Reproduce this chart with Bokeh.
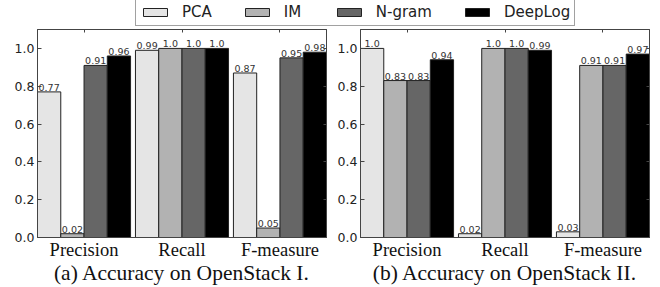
from bokeh.plotting import figure
from bokeh.models import (ColumnDataSource, Legend, LegendItem, FixedTicker, Range1d,
                          NumeralTickFormatter, LinearAxis)
from bokeh.layouts import column, row
from bokeh.core.properties import value
from bokeh.embed import file_html
from bokeh.resources import INLINE

categories = ["Precision", "Recall", "F-measure"]
methods = ["PCA", "IM", "N-gram", "DeepLog"]
colors = ["#e5e5e5", "#b2b2b2", "#666666", "#000000"]

os1_pca = [0.77, 0.99, 0.87]
os1_im = [0.02, 1.0, 0.05]
os1_ngram = [0.91, 1.0, 0.95]
os1_deeplog = [0.96, 1.0, 0.98]

os2_pca = [1.0, 0.02, 0.03]
os2_im = [0.83, 1.0, 0.91]
os2_ngram = [0.83, 1.0, 0.91]
os2_deeplog = [0.94, 0.99, 0.97]

y_ticks = [0.0, 0.2, 0.4, 0.6, 0.8, 1.0]

W = 0.2375
EDGE = "#222222"
FRAME = "#444444"


def style_axis_lines(ax):
    ax.axis_line_color = FRAME
    ax.major_tick_line_color = FRAME
    ax.major_tick_in = 4
    ax.major_tick_out = 0
    ax.minor_tick_line_color = None


def panel(series, caption, width, bl, br):
    n = len(categories)
    p = figure(width=width, height=260, output_backend="svg", toolbar_location=None,
               x_range=Range1d(-2 * W, (n - 1) + 2 * W), y_range=Range1d(0, 1.1),
               min_border_left=bl, min_border_right=br, min_border_top=2, min_border_bottom=0)
    for j, vals in enumerate(series):
        xs = [i + (j - 1.5) * W for i in range(n)]
        src = ColumnDataSource(dict(x=xs, top=vals, lab=[str(v) for v in vals]))
        p.vbar(x="x", top="top", width=W, source=src, fill_color=colors[j],
               line_color=EDGE, line_width=1)
        p.text(x="x", y="top", text="lab", source=src, text_align="center",
               text_baseline="bottom", y_offset=-1, text_font=value("DejaVu Sans"),
               text_font_size="9.5px", text_color="#333333")
    p.grid.visible = False
    p.outline_line_color = FRAME
    p.outline_line_width = 1
    p.background_fill_color = "white"
    p.border_fill_color = "white"

    xa = p.xaxis[0]
    xa.ticker = FixedTicker(ticks=list(range(n)))
    xa.major_label_overrides = {i: c for i, c in enumerate(categories)}
    xa.major_label_text_font = "Liberation Serif"
    xa.major_label_text_font_size = "18.5px"
    xa.major_label_text_color = "#111111"
    xa.major_label_standoff = 2
    style_axis_lines(xa)
    xa.axis_label = caption
    xa.axis_label_text_font = "Liberation Serif"
    xa.axis_label_text_font_size = "21.5px"
    xa.axis_label_text_font_style = "normal"
    xa.axis_label_text_color = "#111111"
    xa.axis_label_standoff = -2

    ya = p.yaxis[0]
    ya.ticker = FixedTicker(ticks=y_ticks)
    ya.formatter = NumeralTickFormatter(format="0.0")
    ya.major_label_text_font = "DejaVu Sans"
    ya.major_label_text_font_size = "12.5px"
    ya.major_label_text_color = "#222222"
    ya.major_label_standoff = 3
    style_axis_lines(ya)

    top_ax = LinearAxis(ticker=FixedTicker(ticks=list(range(n))),
                        major_label_text_color=None, major_label_standoff=0)
    style_axis_lines(top_ax)
    top_ax.major_tick_in = 3
    p.add_layout(top_ax, "above")
    right_ax = LinearAxis(ticker=FixedTicker(ticks=y_ticks),
                          major_label_text_color=None, major_label_standoff=0)
    style_axis_lines(right_ax)
    right_ax.major_tick_in = 3
    p.add_layout(right_ax, "right")
    return p


pa = panel([os1_pca, os1_im, os1_ngram, os1_deeplog], "(a) Accuracy on OpenStack I.", 330, 37, 4)
pb = panel([os2_pca, os2_im, os2_ngram, os2_deeplog], "(b) Accuracy on OpenStack II.", 330, 30, 11)

top = figure(width=660, height=27, output_backend="svg", toolbar_location=None,
             x_range=Range1d(0, 1), y_range=Range1d(0, 1),
             x_axis_location=None, y_axis_location=None,
             min_border_left=0, min_border_right=0, min_border_top=0, min_border_bottom=0)
top.grid.visible = False
top.outline_line_color = None
items = []
for j, vals in enumerate([os1_pca, os1_im, os1_ngram, os1_deeplog]):
    r = top.vbar(x=[10 + i for i in range(len(vals))], top=vals, width=W,
                 fill_color=colors[j], line_color=EDGE, line_width=1)
    items.append(LegendItem(label=methods[j], renderers=[r]))
leg = Legend(items=items, orientation="horizontal", location=(135, 1),
             padding=4, spacing=30, glyph_width=30, glyph_height=10, label_standoff=12,
             label_height=18, label_text_font="DejaVu Sans", label_text_font_size="15px",
             label_text_color="#222222", border_line_color=FRAME, border_line_width=1,
             background_fill_color="white", background_fill_alpha=1.0, margin=0)
top.add_layout(leg)

layout = column(top, row(pa, pb, spacing=0), spacing=0)
open("out.html", "w").write(file_html(layout, INLINE))
